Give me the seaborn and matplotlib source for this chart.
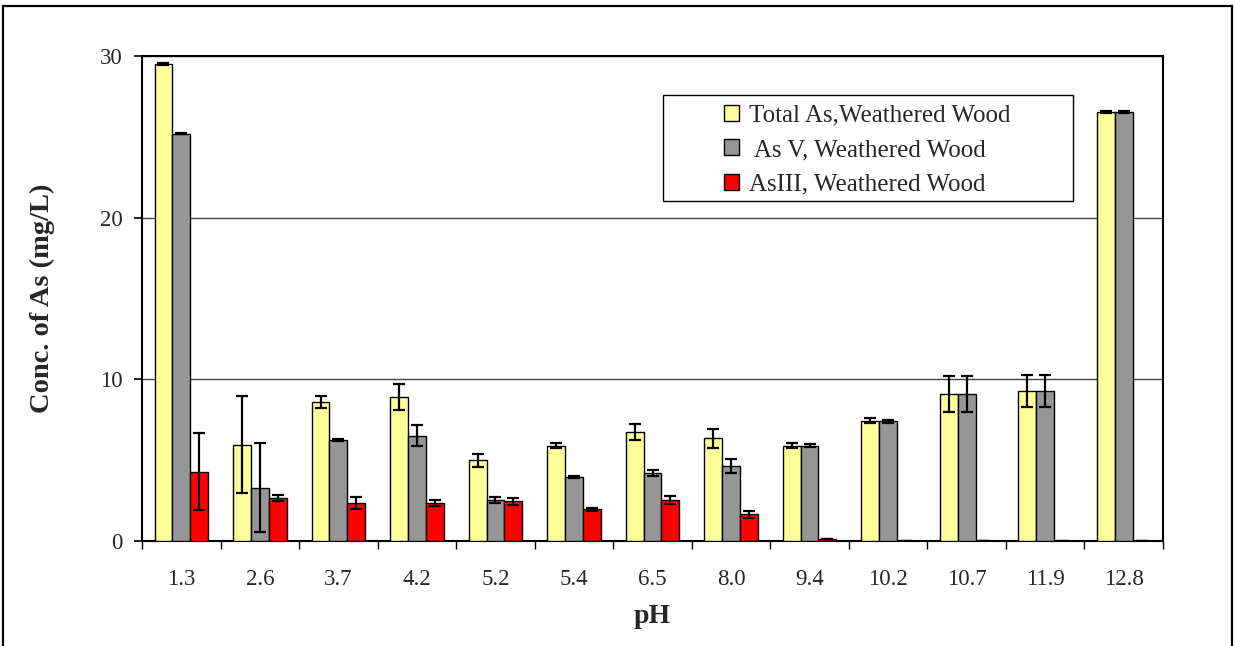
import matplotlib
matplotlib.use("Agg")
import matplotlib.pyplot as plt
import pandas as pd
import seaborn as sns
from matplotlib.patches import Rectangle, Patch
from matplotlib.ticker import FixedLocator, NullFormatter

ph = ["1.3", "2.6", "3.7", "4.2", "5.2", "5.4", "6.5", "8.0", "9.4", "10.2", "10.7", "11.9", "12.8"]
series = ["Total As,Weathered Wood", " As V, Weathered Wood", "AsIII, Weathered Wood"]

total_as = [29.5, 5.95, 8.6, 8.9, 5.0, 5.9, 6.75, 6.35, 5.9, 7.45, 9.1, 9.3, 26.55]
total_err = [0.05, 3.0, 0.4, 0.8, 0.4, 0.15, 0.5, 0.6, 0.15, 0.15, 1.1, 1.0, 0.05]
as_v = [25.2, 3.3, 6.25, 6.5, 2.55, 3.95, 4.2, 4.65, 5.9, 7.4, 9.1, 9.3, 26.55]
as_v_err = [0.05, 2.75, 0.05, 0.65, 0.2, 0.05, 0.2, 0.45, 0.1, 0.1, 1.1, 1.0, 0.05]
as_iii = [4.3, 2.65, 2.35, 2.35, 2.45, 1.95, 2.55, 1.65, 0.1, 0.0, 0.0, 0.0, 0.0]
as_iii_err = [2.4, 0.2, 0.4, 0.2, 0.2, 0.1, 0.25, 0.2, 0.0, 0.0, 0.0, 0.0, 0.0]

colors = ["#FFFF99", "#969696", "#FF0000"]

values = [total_as, as_v, as_iii]
errors = [total_err, as_v_err, as_iii_err]

rows = []
for s, vals in zip(series, values):
    for p, v in zip(ph, vals):
        rows.append({"pH": p, "conc": v, "series": s})
df = pd.DataFrame(rows)

sns.set_style("white")
plt.rcParams["font.family"] = ["Liberation Serif", "DejaVu Serif"]

fig = plt.figure(figsize=(12.35, 6.46), dpi=100)
ax = fig.add_axes([0.115, 0.1625, 0.8267, 0.7508])

sns.barplot(data=df, x="pH", y="conc", hue="series", order=ph, hue_order=series,
            palette=colors, width=0.68, edgecolor="black", linewidth=1.0,
            errorbar=None, saturation=1, ax=ax, zorder=3)

# error bars at the bar centres seaborn placed
for cont, errs in zip(ax.containers, errors):
    xs = [b.get_x() + b.get_width() / 2 for b in cont]
    hs = [b.get_height() for b in cont]
    ax.errorbar(xs, hs, yerr=errs, fmt="none", ecolor="black", elinewidth=1.6,
                capsize=4.5, capthick=1.6, zorder=4)

ax.set_xlim(-0.5, len(ph) - 0.5)
ax.set_ylim(0, 30)
ax.set_yticks([0, 10, 20, 30])
ax.yaxis.grid(True, color="#444444", linewidth=1.0, zorder=0)
ax.set_axisbelow(True)

for sp in ax.spines.values():
    sp.set_color("black")
    sp.set_linewidth(1.5)

ax.tick_params(axis="y", direction="out", length=6, width=1.2, pad=8, labelsize=16.5,
               left=True, color="black")
ax.tick_params(axis="x", which="major", length=0, pad=20, labelsize=16.5)
ax.xaxis.set_minor_locator(FixedLocator([i - 0.5 for i in range(len(ph) + 1)]))
ax.xaxis.set_minor_formatter(NullFormatter())
ax.tick_params(axis="x", which="minor", direction="out", length=6, width=1.0,
               bottom=True, color="black")

ax.set_xlabel("pH", fontsize=20, fontweight="bold", labelpad=10)
ax.set_ylabel("Conc. of As (mg/L)", fontsize=20.5, fontweight="bold", labelpad=32)

handles = [Patch(facecolor=c, edgecolor="black", linewidth=1.0) for c in colors]
leg = ax.legend(handles, series, loc="center left", bbox_to_anchor=(0.570, 0.806),
                fontsize=18, frameon=False,
                handlelength=0.6, handleheight=0.6, handletextpad=0.42,
                borderpad=0, labelspacing=0.5, borderaxespad=0)

# legend frame, wider than the entries as in the original
ax.add_patch(Rectangle((0.5103, 0.701), 0.4016, 0.2186, transform=ax.transAxes,
                       fill=False, edgecolor="black", linewidth=1.0, zorder=5))

# outer border of the figure
fig.patches.append(Rectangle((3 / 1235, -0.02), 1229 / 1235, 1.02 - 6 / 646,
                             transform=fig.transFigure, fill=False,
                             edgecolor="black", linewidth=1.6))

fig.savefig("out.png", dpi=100)
